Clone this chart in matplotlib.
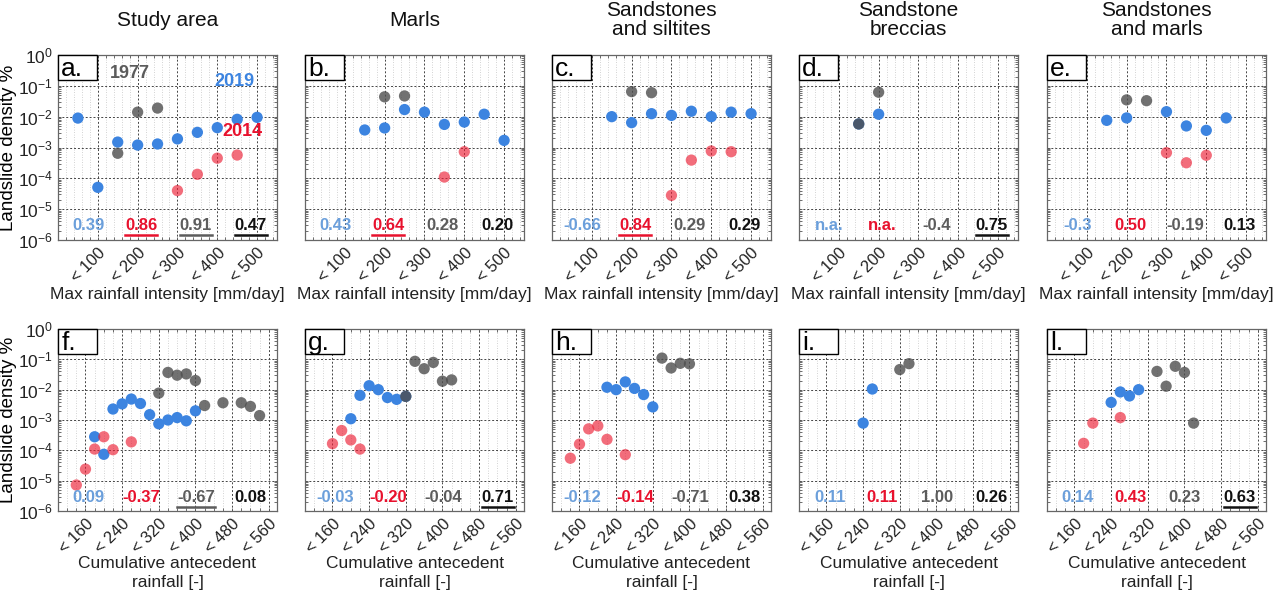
import numpy as np
import matplotlib.pyplot as plt
from matplotlib.ticker import FixedLocator, MultipleLocator, LogLocator, NullFormatter
from matplotlib.transforms import blended_transform_factory, IdentityTransform, ScaledTranslation
from matplotlib.lines import Line2D
from matplotlib.patches import Rectangle

plt.rcParams['font.family'] = ['Liberation Sans', 'DejaVu Sans']

BLUE = '#3c84e0'
RED = '#ec1f35'
GRAY = '#4e4e4e'
CORR_COLORS = ['#6b9fdb', '#e8112d', '#5c5c5c', '#111111']

titles = ['Study area', 'Marls', 'Sandstones\nand siltites', 'Sandstone\nbreccias', 'Sandstones\nand marls']
top_letters = ['a.', 'b.', 'c.', 'd.', 'e.']
bot_letters = ['f.', 'g.', 'h.', 'i.', 'l.']

# max rainfall intensity classes [mm/day]
int_ticks = [100, 200, 300, 400, 500]
int_ticklabels = ['< 100', '< 200', '< 300', '< 400', '< 500']

int_2019_x = [[50, 100, 150, 200, 250, 300, 350, 400, 450, 500],
              [150, 200, 250, 300, 350, 400, 450, 500],
              [150, 200, 250, 300, 350, 400, 450, 500],
              [150, 200],
              [150, 200, 300, 350, 400, 450]]
int_2019_y = [[9e-3, 5.1e-5, 1.5e-3, 1.2e-3, 1.3e-3, 1.9e-3, 3.1e-3, 4.4e-3, 8.2e-3, 9.5e-3],
              [3.7e-3, 4.3e-3, 1.7e-2, 1.4e-2, 5.6e-3, 6.7e-3, 1.2e-2, 1.7e-3],
              [1.0e-2, 6.4e-3, 1.25e-2, 1.1e-2, 1.5e-2, 1.0e-2, 1.4e-2, 1.25e-2],
              [5.8e-3, 1.2e-2],
              [7.6e-3, 9.1e-3, 1.45e-2, 5.0e-3, 3.6e-3, 9.1e-3]]
int_2014_x = [[300, 350, 400, 450],
              [350, 400],
              [300, 350, 400, 450],
              [],
              [300, 350, 400]]
int_2014_y = [[4.0e-5, 1.35e-4, 4.5e-4, 5.7e-4],
              [1.1e-4, 7.3e-4],
              [2.8e-5, 3.9e-4, 7.7e-4, 7.3e-4],
              [],
              [6.8e-4, 3.2e-4, 5.6e-4]]
int_1977_x = [[150, 200, 250],
              [200, 250],
              [200, 250],
              [150, 200],
              [200, 250]]
int_1977_y = [[6.5e-4, 1.4e-2, 1.9e-2],
              [4.4e-2, 4.7e-2],
              [6.5e-2, 6.0e-2],
              [5.8e-3, 6.2e-2],
              [3.5e-2, 3.3e-2]]

# cumulative antecedent rainfall classes
car_ticks = [160, 240, 320, 400, 480, 560]
car_ticklabels = ['< 160', '< 240', '< 320', '< 400', '< 480', '< 560']

car_2019_x = [[180, 200, 220, 240, 260, 280, 300, 320, 340, 360, 380, 400],
              [200, 220, 240, 260, 280, 300, 320],
              [220, 240, 260, 280, 300, 320],
              [240, 260],
              [240, 260, 280, 300]]
car_2019_y = [[2.8e-4, 7.4e-5, 2.3e-3, 3.4e-3, 4.9e-3, 3.5e-3, 1.5e-3, 7.5e-4, 1.0e-3, 1.2e-3, 9.4e-4, 2.0e-3],
              [1.1e-3, 6.5e-3, 1.35e-2, 1.0e-2, 5.5e-3, 4.8e-3, 6.0e-3],
              [1.2e-2, 1.0e-2, 1.8e-2, 1.1e-2, 6.9e-3, 2.7e-3],
              [7.9e-4, 1.05e-2],
              [3.8e-3, 8.4e-3, 6.2e-3, 1.0e-2]]
car_2014_x = [[140, 160, 180, 200, 220, 260],
              [160, 180, 200, 220],
              [140, 160, 180, 200, 220, 260],
              [],
              [180, 200, 260]]
car_2014_y = [[7.2e-6, 2.4e-5, 1.1e-4, 2.8e-4, 1.05e-4, 1.9e-4],
              [1.66e-4, 4.5e-4, 2.2e-4, 1.1e-4],
              [5.5e-5, 1.6e-4, 5.1e-4, 6.4e-4, 2.3e-4, 7.2e-5],
              [],
              [1.7e-4, 7.9e-4, 1.2e-3]]
car_1977_x = [[320, 340, 360, 380, 400, 420, 460, 500, 520, 540],
              [320, 340, 360, 380, 400, 420],
              [340, 360, 380, 400],
              [320, 340],
              [340, 360, 380, 400, 420]]
car_1977_y = [[7.7e-3, 3.7e-2, 3.0e-2, 3.3e-2, 2.0e-2, 3.0e-3, 3.7e-3, 3.7e-3, 2.8e-3, 1.4e-3],
              [6.0e-3, 8.6e-2, 4.9e-2, 7.9e-2, 1.9e-2, 2.1e-2],
              [1.1e-1, 5.2e-2, 7.4e-2, 7.1e-2],
              [4.6e-2, 7.2e-2],
              [4.0e-2, 1.3e-2, 5.9e-2, 3.7e-2, 7.9e-4]]

# correlation coefficients (2019, 2014, 1977, all) and significance flags
top_corr = [['0.39', '0.86', '0.91', '0.47'],
            ['0.43', '0.64', '0.28', '0.20'],
            ['-0.66', '0.84', '0.29', '0.29'],
            ['n.a.', 'n.a.', '-0.4', '0.75'],
            ['-0.3', '0.50', '-0.19', '0.13']]
top_sig = [[0, 1, 1, 1], [0, 1, 0, 0], [0, 1, 0, 0], [0, 0, 0, 1], [0, 0, 0, 0]]
bot_corr = [['0.09', '-0.37', '-0.67', '0.08'],
            ['-0.03', '-0.20', '-0.04', '0.71'],
            ['-0.12', '-0.14', '-0.71', '0.38'],
            ['0.11', '0.11', '1.00', '0.26'],
            ['0.14', '0.43', '0.23', '0.63']]
bot_sig = [[0, 0, 1, 0], [0, 0, 0, 1], [0, 0, 0, 0], [0, 0, 0, 0], [0, 0, 0, 1]]

W, H = 1284, 599
fig = plt.figure(figsize=(W / 100, H / 100), dpi=100)

lefts = [58, 305, 552, 799, 1047]
axw = 219


def make_axes(x0, ytop, ybot):
    return fig.add_axes([x0 / W, 1 - ybot / H, axw / W, (ybot - ytop) / H])


def style_axes(ax, ticks, ticklabels, xlim, minor, first):
    ax.set_yscale('log')
    ax.set_ylim(1e-6, 1)
    ax.set_xlim(*xlim)
    ax.xaxis.set_major_locator(FixedLocator(ticks))
    ax.xaxis.set_minor_locator(MultipleLocator(minor))
    ax.set_xticklabels(ticklabels, rotation=45, ha='right', va='top',
                       rotation_mode='anchor', fontsize=11.8, color='#222222')
    off = ScaledTranslation(7 / 72, -2 / 72, fig.dpi_scale_trans)
    for lab in ax.get_xticklabels():
        lab.set_transform(lab.get_transform() + off)
    ax.yaxis.set_major_locator(LogLocator(base=10, numticks=10))
    ax.yaxis.set_minor_locator(LogLocator(base=10, subs=np.arange(2, 10), numticks=10))
    ax.yaxis.set_minor_formatter(NullFormatter())
    if not first:
        ax.yaxis.set_major_formatter(NullFormatter())
    ax.tick_params(axis='both', which='both', direction='in', top=True, right=True,
                   length=2.5, width=0.6, colors='#555555', labelcolor='#222222')
    ax.tick_params(axis='y', labelsize=12.5)
    ax.grid(True, which='major', linestyle=(0, (2, 2)), color='#444444', lw=0.7)
    ax.grid(True, which='minor', axis='x', linestyle=(0, (1, 2)), color='#c4c4c4', lw=0.6)
    ax.set_axisbelow(True)
    for s in ax.spines.values():
        s.set_color('#666666')
        s.set_linewidth(0.9)
    if first:
        ax.set_ylabel('Landslide density %', fontsize=13.5, labelpad=1)


def letter_box(ax, letter, hfrac):
    ax.add_patch(Rectangle((0, 1 - hfrac), 0.178, hfrac, transform=ax.transAxes,
                           fc='white', ec='black', lw=1.0, zorder=5, clip_on=False))
    ax.text(0.015, 1 - hfrac / 2 - 0.01, letter, transform=ax.transAxes, fontsize=19,
            ha='left', va='center', zorder=6)


def scatter_series(ax, xs, ys):
    ax.scatter(xs[0], ys[0], s=66, color=BLUE, edgecolors='none', zorder=3)
    ax.scatter(xs[1], ys[1], s=66, color=RED, alpha=0.65, edgecolors='none', zorder=3)
    ax.scatter(xs[2], ys[2], s=66, color=GRAY, alpha=0.8, edgecolors='none', zorder=3)


corr_texts = []


def corr_labels(ax, labels, sig, yval):
    tr = blended_transform_factory(ax.transAxes, ax.transData)
    for k, (lab, fx) in enumerate(zip(labels, [0.14, 0.38, 0.63, 0.88])):
        t = ax.text(fx, yval, lab, transform=tr, ha='center', va='center',
                    fontsize=12, fontweight='bold', color=CORR_COLORS[k], zorder=6)
        if sig[k]:
            corr_texts.append((t, CORR_COLORS[k]))


for i in range(5):
    ax = make_axes(lefts[i], 55, 240)
    style_axes(ax, int_ticks, int_ticklabels, (0, 550), 20, i == 0)
    scatter_series(ax, (int_2019_x[i], int_2014_x[i], int_1977_x[i]),
                   (int_2019_y[i], int_2014_y[i], int_1977_y[i]))
    letter_box(ax, top_letters[i], 25 / 185)
    corr_labels(ax, top_corr[i], top_sig[i], 10 ** -5.52)
    ax.text(0.5, -(295 - 240) / 185, 'Max rainfall intensity [mm/day]', transform=ax.transAxes,
            ha='center', va='center', fontsize=12.5, color='#222222')
    fig.text((lefts[i] + axw / 2) / W, 1 - 20 / H, titles[i], ha='center', va='center',
             fontsize=15, linespacing=1.05, color='#111111')
    if i == 0:
        ax.text(180, 0.26, '1977', color='#5c5c5c', fontsize=13, fontweight='bold',
                ha='center', va='center', zorder=6)
        ax.text(442, 0.14, '2019', color=BLUE, fontsize=13, fontweight='bold',
                ha='center', va='center', zorder=6)
        ax.text(462, 3.2e-3, '2014', color='#e8112d', fontsize=13, fontweight='bold',
                ha='center', va='center', zorder=6)

for i in range(5):
    ax = make_axes(lefts[i], 329, 511)
    style_axes(ax, car_ticks, car_ticklabels, (100, 578), 20, i == 0)
    scatter_series(ax, (car_2019_x[i], car_2014_x[i], car_1977_x[i]),
                   (car_2019_y[i], car_2014_y[i], car_1977_y[i]))
    letter_box(ax, bot_letters[i], 25 / 182)
    corr_labels(ax, bot_corr[i], bot_sig[i], 10 ** -5.55)
    ax.text(0.5, -(573 - 511) / 182, 'Cumulative antecedent\nrainfall [-]', transform=ax.transAxes,
            ha='center', va='center', fontsize=12.5, linespacing=1.25, color='#222222')

# underline the significant coefficients
fig.canvas.draw()
renderer = fig.canvas.get_renderer()
for t, c in corr_texts:
    bb = t.get_window_extent(renderer)
    fig.add_artist(Line2D([bb.x0, bb.x1], [bb.y0 - 2, bb.y0 - 2], color=c, lw=1.8,
                          transform=IdentityTransform()))

fig.savefig('out.png', dpi=100)
